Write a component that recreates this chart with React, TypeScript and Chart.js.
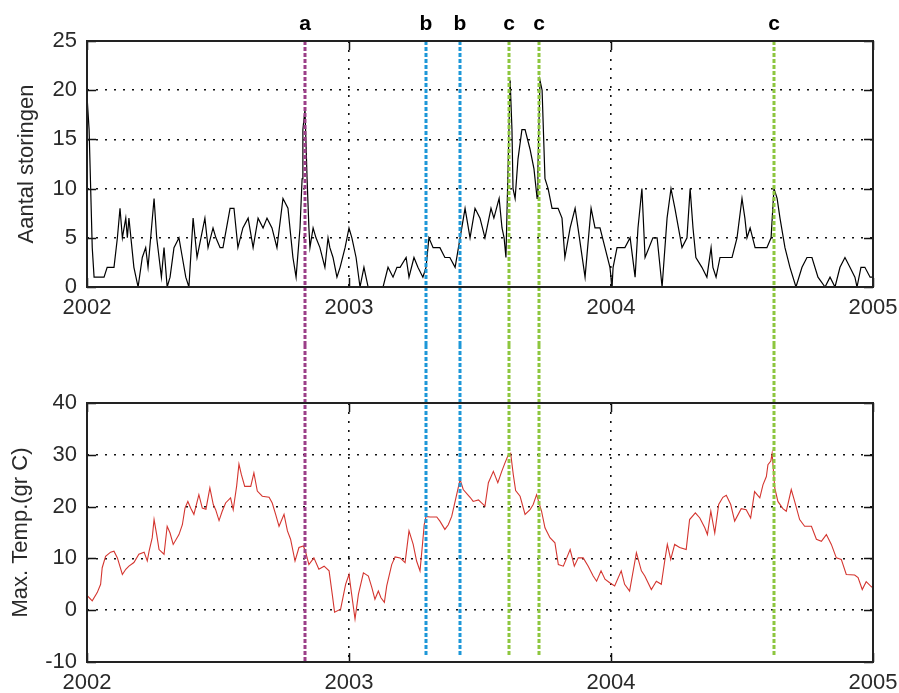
import React, { useEffect, useRef } from "react";
import { Chart, registerables } from "chart.js";

Chart.register(...registerables);

// ---------- data ----------
const BASE_YEAR = 2002;
const X_MIN = 2002;
const X_MAX = 2005;
const X_TICKS = [2002, 2003, 2004, 2005];

// years since 2002-01-01
const stormYears = [
  0.001, 0.008, 0.020, 0.027, 0.065, 0.077, 0.103, 0.116, 0.126, 0.135,
  0.148, 0.154, 0.160, 0.179, 0.195, 0.211, 0.224, 0.233, 0.243, 0.256,
  0.266, 0.275, 0.284, 0.294, 0.306, 0.317, 0.332, 0.351, 0.364, 0.377,
  0.389, 0.405, 0.420, 0.450, 0.462, 0.481, 0.492, 0.508, 0.519, 0.546,
  0.561, 0.576, 0.595, 0.615, 0.634, 0.653, 0.672, 0.687, 0.706, 0.725,
  0.748, 0.767, 0.786, 0.798, 0.813, 0.821, 0.824, 0.832, 0.840, 0.847,
  0.851, 0.863, 0.874, 0.889, 0.908, 0.920, 0.927, 0.939, 0.954, 0.966,
  0.985, 1.000, 1.011, 1.027, 1.042, 1.057, 1.073, 1.130, 1.149, 1.168,
  1.183, 1.195, 1.218, 1.229, 1.248, 1.263, 1.282, 1.294, 1.305, 1.321,
  1.336, 1.347, 1.366, 1.385, 1.405, 1.424, 1.443, 1.462, 1.481, 1.500,
  1.519, 1.542, 1.553, 1.573, 1.584, 1.592, 1.599, 1.607, 1.615, 1.622,
  1.626, 1.634, 1.645, 1.660, 1.672, 1.691, 1.706, 1.718, 1.721, 1.729,
  1.737, 1.748, 1.760, 1.775, 1.798, 1.813, 1.824, 1.844, 1.863, 1.874,
  1.901, 1.924, 1.939, 1.958, 1.977, 1.996, 2.004, 2.008, 2.023, 2.053,
  2.073, 2.092, 2.103, 2.118, 2.130, 2.160, 2.176, 2.195, 2.214, 2.229,
  2.244, 2.271, 2.290, 2.302, 2.313, 2.324, 2.347, 2.366, 2.382, 2.389,
  2.401, 2.416, 2.462, 2.481, 2.500, 2.511, 2.519, 2.531, 2.550, 2.595,
  2.611, 2.622, 2.634, 2.645, 2.664, 2.683, 2.706, 2.729, 2.748, 2.767,
  2.790, 2.817, 2.836, 2.855, 2.874, 2.893, 2.912, 2.931, 2.939, 2.954,
  2.969, 2.989, 3.000,
];
const stormCounts = [
  19, 16, 4, 1, 1, 2, 2, 5, 8, 5,
  7, 5, 7, 2, 0, 3, 4, 2, 5, 9,
  5, 3, 1, 4, 0, 1, 4, 5, 3, 1,
  0, 7, 3, 7, 4, 6, 5, 4, 4, 8,
  8, 4, 6, 7, 4, 7, 6, 7, 6, 4,
  9, 8, 3, 1, 6, 11, 16, 18, 11, 6,
  4, 6, 5, 4, 2, 5, 4, 3, 1, 2,
  4, 6, 5, 3, 0, 2, 0, 0, 2, 1,
  2, 2, 3, 1, 3, 2, 1, 2, 5, 4,
  4, 4, 3, 3, 2, 5, 8, 5, 8, 7,
  5, 8, 7, 9, 6, 5, 3, 12, 21, 16,
  10, 9, 13, 16, 16, 14, 12, 9, 12, 21,
  20, 11, 10, 8, 8, 7, 3, 6, 8, 6,
  1, 8, 6, 6, 4, 2, 0, 2, 4, 4,
  5, 1, 6, 10, 3, 5, 5, 0, 7, 10,
  8, 4, 5, 10, 6, 3, 2, 1, 4, 2,
  1, 3, 3, 5, 9, 7, 5, 6, 4, 4,
  5, 10, 9, 7, 4, 2, 0, 2, 3, 3,
  1, 0, 1, 0, 2, 3, 2, 1, 0, 2,
  2, 1, 1,
];

const tempYears = [
  0.001, 0.020, 0.039, 0.052, 0.058, 0.071, 0.090, 0.103, 0.116, 0.135,
  0.148, 0.160, 0.179, 0.198, 0.218, 0.230, 0.237, 0.249, 0.256, 0.266,
  0.275, 0.294, 0.306, 0.317, 0.329, 0.351, 0.364, 0.374, 0.385, 0.396,
  0.408, 0.427, 0.440, 0.454, 0.469, 0.482, 0.491, 0.504, 0.516, 0.529,
  0.548, 0.558, 0.571, 0.580, 0.589, 0.602, 0.625, 0.637, 0.650, 0.669,
  0.695, 0.707, 0.720, 0.733, 0.752, 0.765, 0.777, 0.794, 0.809, 0.826,
  0.835, 0.847, 0.866, 0.885, 0.905, 0.924, 0.936, 0.945, 0.968, 0.987,
  1.000, 1.010, 1.023, 1.036, 1.055, 1.074, 1.087, 1.099, 1.112, 1.122,
  1.135, 1.144, 1.163, 1.176, 1.195, 1.214, 1.229, 1.245, 1.258, 1.271,
  1.281, 1.287, 1.294, 1.309, 1.335, 1.347, 1.366, 1.379, 1.392, 1.405,
  1.424, 1.436, 1.462, 1.474, 1.494, 1.506, 1.519, 1.532, 1.551, 1.568,
  1.583, 1.595, 1.608, 1.617, 1.627, 1.636, 1.653, 1.672, 1.691, 1.703,
  1.716, 1.735, 1.748, 1.767, 1.786, 1.799, 1.818, 1.831, 1.844, 1.860,
  1.875, 1.894, 1.913, 1.932, 1.945, 1.962, 1.977, 1.995, 2.014, 2.039,
  2.052, 2.071, 2.097, 2.116, 2.129, 2.154, 2.173, 2.192, 2.205, 2.215,
  2.228, 2.243, 2.262, 2.287, 2.300, 2.322, 2.339, 2.358, 2.368, 2.381,
  2.396, 2.411, 2.427, 2.440, 2.457, 2.472, 2.497, 2.516, 2.533, 2.548,
  2.568, 2.580, 2.593, 2.599, 2.610, 2.615, 2.625, 2.637, 2.656, 2.669,
  2.688, 2.701, 2.720, 2.739, 2.765, 2.784, 2.803, 2.822, 2.841, 2.860,
  2.879, 2.898, 2.930, 2.943, 2.959, 2.974, 2.994, 3.000,
];
const tempMax = [
  2.8, 1.8, 3.4, 5, 8.2, 10.4, 11.2, 11.4, 10.1, 6.9,
  7.9, 8.5, 9.2, 10.8, 11.2, 9.5, 11.4, 14, 17.5, 14.6,
  11.7, 10.8, 16.2, 14.9, 12.7, 14.6, 16.5, 19.7, 21, 19.7,
  18.5, 22.3, 19.7, 19.5, 23.6, 20.4, 19.4, 17.3, 19.1, 20.7,
  21.7, 19.4, 23.9, 28.2, 26.2, 23.9, 23.9, 26.5, 23, 22,
  21.8, 20.7, 18.5, 16.2, 18.5, 15.3, 13.7, 9.5, 12.1, 12.4,
  11.1, 8.8, 10.1, 7.9, 8.5, 7.6, 3.1, -0.4, 0.2, 5,
  6.9, 3.1, -1.7, 3.1, 7.2, 6.6, 4.4, 2.1, 3.7, 2.4,
  1.5, 4.7, 8.8, 10.3, 10.1, 9.2, 15.3, 12.7, 9.5, 7.6,
  13, 16.5, 18.1, 18, 18, 17.2, 15.6, 16.5, 18.1, 21,
  25.2, 23.3, 21.8, 21, 21.3, 20.7, 20.1, 24.6, 26.8, 24.6,
  26.8, 28.4, 30, 30.3, 26.2, 23.1, 22, 18.5, 19.4, 20.4,
  22.3, 19.1, 15.9, 14, 13, 8.8, 8.5, 10.1, 11.7, 8.5,
  10.1, 10.1, 8.5, 6.6, 5.6, 7.6, 6, 5.3, 4.7, 7.6,
  5, 3.7, 11.1, 7.6, 6.6, 4, 5.6, 5, 9.5, 12.7,
  9.8, 12.7, 12.1, 11.7, 17.5, 18.8, 17.8, 15.9, 14.6, 19.1,
  14.9, 20.4, 21.8, 22.2, 20.4, 17.2, 19.6, 19.4, 17.8, 22.9,
  21.7, 24.2, 25.8, 28.1, 28.8, 30.3, 23.6, 21, 19.6, 19.1,
  23.3, 21, 17.5, 16.2, 16.2, 13.7, 13.3, 14.6, 12.7, 10.1,
  9.8, 6.9, 6.8, 6.3, 4, 5.5, 4.5, 4.4,
];

// marked events (decimal years) and their letters
const eventYears = [2002.832, 2003.294, 2003.424, 2003.611, 2003.724, 2004.622];
const eventLetters = ["a", "b", "b", "c", "c", "c"];

// ---------- styles ----------
const EVENT_COLORS: Record<string, string> = {
  a: "#9b3f88",
  b: "#1d97d8",
  c: "#8dc63f",
};
const FONT = '"Liberation Sans", Arial, Helvetica, sans-serif';
const TEXT = "#2a2a2a";
const W = 899;
const TOP_H = 345;
const BOT_H = 348;

function overlayPlugin(isTop: boolean) {
  return {
    id: "overlay" + (isTop ? "Top" : "Bottom"),
    afterDatasetsDraw(chart: any) {
      const { ctx, chartArea: ca, scales } = chart;
      const xs = scales.x;
      const ys = scales.y;
      ctx.save();
      // event lines
      eventYears.forEach((yr, i) => {
        const letter = eventLetters[i];
        const px = Math.round(xs.getPixelForValue(yr));
        ctx.strokeStyle = EVENT_COLORS[letter];
        ctx.lineWidth = 3;
        ctx.setLineDash([4, 2]);
        ctx.beginPath();
        if (isTop) {
          ctx.moveTo(px, ca.top);
          ctx.lineTo(px, chart.height);
        } else {
          ctx.moveTo(px, 0);
          ctx.lineTo(px, letter === "a" ? ca.bottom : ca.bottom - 5);
        }
        ctx.stroke();
        if (isTop) {
          ctx.setLineDash([]);
          ctx.fillStyle = "#000";
          ctx.font = "bold 21px " + FONT;
          ctx.textAlign = "center";
          ctx.textBaseline = "alphabetic";
          ctx.fillText(letter, px, 30);
        }
      });
      ctx.setLineDash([]);
      // inner tick marks
      ctx.strokeStyle = "#111";
      ctx.lineWidth = 1.5;
      const tl = 9;
      ys.ticks.forEach((t: any) => {
        const py = Math.round(ys.getPixelForValue(t.value)) + 0.5;
        ctx.beginPath();
        ctx.moveTo(ca.left, py);
        ctx.lineTo(ca.left + tl, py);
        ctx.moveTo(ca.right - tl, py);
        ctx.lineTo(ca.right, py);
        ctx.stroke();
      });
      xs.ticks.forEach((t: any) => {
        const px = Math.round(xs.getPixelForValue(t.value)) + 0.5;
        ctx.beginPath();
        ctx.moveTo(px, ca.top);
        ctx.lineTo(px, ca.top + tl);
        ctx.moveTo(px, ca.bottom - tl);
        ctx.lineTo(px, ca.bottom);
        ctx.stroke();
      });
      // frame
      ctx.lineWidth = 2;
      ctx.strokeStyle = "#222";
      ctx.strokeRect(ca.left, ca.top, ca.right - ca.left, ca.bottom - ca.top);
      ctx.restore();
    },
  };
}

function makeConfig(
  isTop: boolean,
  points: { x: number; y: number }[],
  color: string,
  lineWidth: number,
  yMin: number,
  yMax: number,
  yStep: number,
  title: string
): any {
  const gridCommon = {
    color: "#111",
    lineWidth: 1.6,
    drawTicks: false,
  };
  return {
    type: "line",
    data: {
      datasets: [
        {
          data: points,
          borderColor: color,
          borderWidth: lineWidth,
          pointRadius: 0,
          tension: 0,
          fill: false,
        },
      ],
    },
    options: {
      responsive: false,
      animation: false,
      events: [],
      layout: {
        padding: { top: isTop ? 41 : 58, right: 26, left: 0, bottom: 0 },
      },
      plugins: { legend: { display: false }, tooltip: { enabled: false } },
      scales: {
        x: {
          type: "linear",
          min: X_MIN,
          max: X_MAX,
          afterFit: (s: any) => {
            s.height = isTop ? 58 : 31;
            s.paddingLeft = 0;
            s.paddingRight = 0;
          },
          afterBuildTicks: (s: any) => {
            s.ticks = X_TICKS.map((v) => ({ value: v }));
          },
          ticks: {
            callback: (v: any) => String(v),
            font: { family: FONT, size: 22 },
            color: TEXT,
            padding: 8,
            maxRotation: 0,
          },
          grid: gridCommon,
          border: { display: false, dash: [2, 7] },
        },
        y: {
          min: yMin,
          max: yMax,
          afterFit: (s: any) => {
            s.width = 87;
            s.paddingTop = 0;
            s.paddingBottom = 0;
          },
          ticks: {
            stepSize: yStep,
            font: { family: FONT, size: 22 },
            color: TEXT,
            padding: 10,
          },
          title: {
            display: true,
            text: title,
            font: { family: FONT, size: 22 },
            color: TEXT,
            padding: { top: isTop ? 14 : 8, bottom: 0 },
          },
          grid: gridCommon,
          border: { display: false, dash: [2, 7] },
        },
      },
    },
    plugins: [overlayPlugin(isTop)],
  };
}

export default function App() {
  const topRef = useRef<HTMLCanvasElement | null>(null);
  const botRef = useRef<HTMLCanvasElement | null>(null);

  useEffect(() => {
    const stormPoints = stormYears.map((t, i) => ({ x: BASE_YEAR + t, y: stormCounts[i] }));
    const tempPoints = tempYears.map((t, i) => ({ x: BASE_YEAR + t, y: tempMax[i] }));
    const c1 = new Chart(
      topRef.current as HTMLCanvasElement,
      makeConfig(true, stormPoints, "#000", 1.2, 0, 25, 5, "Aantal storingen")
    );
    const c2 = new Chart(
      botRef.current as HTMLCanvasElement,
      makeConfig(false, tempPoints, "#d4352f", 1.1, -10, 40, 10, "Max. Temp.(gr C)")
    );
    return () => {
      c1.destroy();
      c2.destroy();
    };
  }, []);

  return (
    <div
      style={{
        position: "absolute",
        left: 0,
        top: 0,
        width: W,
        height: TOP_H + BOT_H,
        background: "#fff",
      }}
    >
      <canvas
        ref={topRef}
        width={W}
        height={TOP_H}
        style={{ position: "absolute", left: 0, top: 0, width: W, height: TOP_H }}
      />
      <canvas
        ref={botRef}
        width={W}
        height={BOT_H}
        style={{ position: "absolute", left: 0, top: TOP_H, width: W, height: BOT_H }}
      />
    </div>
  );
}
